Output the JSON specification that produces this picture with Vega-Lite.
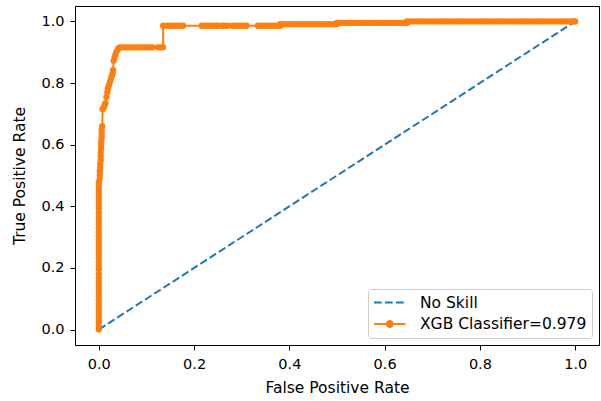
{
  "$schema": "https://vega.github.io/schema/vega-lite/v6.json",
  "width": 524,
  "height": 339,
  "autosize": {"type": "none"},
  "padding": {"left": 75, "top": 6, "right": 2, "bottom": 56},
  "background": "white",
  "config": {
    "font": "DejaVu Sans",
    "view": {"stroke": "black", "strokeWidth": 1},
    "axis": {
      "grid": false,
      "domainColor": "black",
      "tickColor": "black",
      "tickSize": 5,
      "labelFont": "DejaVu Sans",
      "labelFontSize": 14.5,
      "labelColor": "black",
      "titleFont": "DejaVu Sans",
      "titleFontSize": 15.5,
      "titleFontWeight": "normal",
      "titleColor": "black"
    }
  },
  "datasets": {
    "noskill": [
      {"fpr": 0, "tpr": 0, "model": "No Skill"},
      {"fpr": 1, "tpr": 1, "model": "No Skill"}
    ],
    "roc": [
      {"fpr": 0, "tpr": 0}, {"fpr": 0, "tpr": 0.012}, {"fpr": 0, "tpr": 0.024}, {"fpr": 0, "tpr": 0.036},
      {"fpr": 0, "tpr": 0.048}, {"fpr": 0, "tpr": 0.06}, {"fpr": 0, "tpr": 0.072}, {"fpr": 0, "tpr": 0.084},
      {"fpr": 0, "tpr": 0.096}, {"fpr": 0, "tpr": 0.108}, {"fpr": 0, "tpr": 0.12}, {"fpr": 0, "tpr": 0.132},
      {"fpr": 0, "tpr": 0.144}, {"fpr": 0, "tpr": 0.156}, {"fpr": 0, "tpr": 0.168}, {"fpr": 0, "tpr": 0.18},
      {"fpr": 0, "tpr": 0.196}, {"fpr": 0, "tpr": 0.208}, {"fpr": 0, "tpr": 0.22}, {"fpr": 0, "tpr": 0.232},
      {"fpr": 0, "tpr": 0.244}, {"fpr": 0, "tpr": 0.256}, {"fpr": 0, "tpr": 0.268}, {"fpr": 0, "tpr": 0.28},
      {"fpr": 0, "tpr": 0.292}, {"fpr": 0, "tpr": 0.304}, {"fpr": 0, "tpr": 0.316}, {"fpr": 0, "tpr": 0.33},
      {"fpr": 0, "tpr": 0.342}, {"fpr": 0, "tpr": 0.354}, {"fpr": 0, "tpr": 0.366}, {"fpr": 0, "tpr": 0.38},
      {"fpr": 0, "tpr": 0.394}, {"fpr": 0, "tpr": 0.406}, {"fpr": 0, "tpr": 0.418}, {"fpr": 0, "tpr": 0.43},
      {"fpr": 0, "tpr": 0.442}, {"fpr": 0, "tpr": 0.454}, {"fpr": 0, "tpr": 0.466}, {"fpr": 0, "tpr": 0.478},
      {"fpr": 0.002, "tpr": 0.49}, {"fpr": 0.002, "tpr": 0.502}, {"fpr": 0.002, "tpr": 0.514},
      {"fpr": 0.003, "tpr": 0.526}, {"fpr": 0.003, "tpr": 0.538}, {"fpr": 0.004, "tpr": 0.55},
      {"fpr": 0.004, "tpr": 0.562}, {"fpr": 0.004, "tpr": 0.574}, {"fpr": 0.005, "tpr": 0.588},
      {"fpr": 0.005, "tpr": 0.6}, {"fpr": 0.005, "tpr": 0.612}, {"fpr": 0.006, "tpr": 0.624},
      {"fpr": 0.006, "tpr": 0.636}, {"fpr": 0.006, "tpr": 0.648}, {"fpr": 0.007, "tpr": 0.66},
      {"fpr": 0.008, "tpr": 0.715}, {"fpr": 0.01, "tpr": 0.72}, {"fpr": 0.012, "tpr": 0.728},
      {"fpr": 0.014, "tpr": 0.735}, {"fpr": 0.016, "tpr": 0.755}, {"fpr": 0.018, "tpr": 0.77},
      {"fpr": 0.019, "tpr": 0.782}, {"fpr": 0.021, "tpr": 0.792}, {"fpr": 0.023, "tpr": 0.802},
      {"fpr": 0.025, "tpr": 0.812}, {"fpr": 0.027, "tpr": 0.822}, {"fpr": 0.029, "tpr": 0.832},
      {"fpr": 0.03, "tpr": 0.842}, {"fpr": 0.031, "tpr": 0.872}, {"fpr": 0.033, "tpr": 0.882},
      {"fpr": 0.035, "tpr": 0.892}, {"fpr": 0.037, "tpr": 0.902}, {"fpr": 0.04, "tpr": 0.91},
      {"fpr": 0.043, "tpr": 0.916}, {"fpr": 0.049, "tpr": 0.916}, {"fpr": 0.055, "tpr": 0.916},
      {"fpr": 0.061, "tpr": 0.916}, {"fpr": 0.067, "tpr": 0.916}, {"fpr": 0.073, "tpr": 0.916},
      {"fpr": 0.079, "tpr": 0.916}, {"fpr": 0.085, "tpr": 0.916}, {"fpr": 0.091, "tpr": 0.916},
      {"fpr": 0.097, "tpr": 0.916}, {"fpr": 0.103, "tpr": 0.916}, {"fpr": 0.109, "tpr": 0.916},
      {"fpr": 0.113, "tpr": 0.916}, {"fpr": 0.124, "tpr": 0.916}, {"fpr": 0.129, "tpr": 0.916},
      {"fpr": 0.135, "tpr": 0.916}, {"fpr": 0.135, "tpr": 0.986}, {"fpr": 0.141, "tpr": 0.986},
      {"fpr": 0.147, "tpr": 0.986}, {"fpr": 0.153, "tpr": 0.986}, {"fpr": 0.159, "tpr": 0.986},
      {"fpr": 0.165, "tpr": 0.986}, {"fpr": 0.171, "tpr": 0.986}, {"fpr": 0.177, "tpr": 0.986},
      {"fpr": 0.216, "tpr": 0.986}, {"fpr": 0.222, "tpr": 0.986}, {"fpr": 0.228, "tpr": 0.986},
      {"fpr": 0.234, "tpr": 0.986}, {"fpr": 0.24, "tpr": 0.986}, {"fpr": 0.246, "tpr": 0.986},
      {"fpr": 0.25, "tpr": 0.986}, {"fpr": 0.258, "tpr": 0.986}, {"fpr": 0.264, "tpr": 0.986},
      {"fpr": 0.27, "tpr": 0.986}, {"fpr": 0.28, "tpr": 0.986}, {"fpr": 0.286, "tpr": 0.986},
      {"fpr": 0.292, "tpr": 0.986}, {"fpr": 0.298, "tpr": 0.986}, {"fpr": 0.304, "tpr": 0.986},
      {"fpr": 0.31, "tpr": 0.986}, {"fpr": 0.334, "tpr": 0.986}, {"fpr": 0.34, "tpr": 0.986},
      {"fpr": 0.346, "tpr": 0.986}, {"fpr": 0.352, "tpr": 0.986}, {"fpr": 0.358, "tpr": 0.986},
      {"fpr": 0.364, "tpr": 0.986}, {"fpr": 0.37, "tpr": 0.986}, {"fpr": 0.376, "tpr": 0.986},
      {"fpr": 0.381, "tpr": 0.986}, {"fpr": 0.381, "tpr": 0.991}, {"fpr": 0.388, "tpr": 0.991},
      {"fpr": 0.395, "tpr": 0.991}, {"fpr": 0.402, "tpr": 0.991}, {"fpr": 0.409, "tpr": 0.991},
      {"fpr": 0.416, "tpr": 0.991}, {"fpr": 0.423, "tpr": 0.991}, {"fpr": 0.43, "tpr": 0.991},
      {"fpr": 0.437, "tpr": 0.991}, {"fpr": 0.444, "tpr": 0.991}, {"fpr": 0.451, "tpr": 0.991},
      {"fpr": 0.458, "tpr": 0.991}, {"fpr": 0.465, "tpr": 0.991}, {"fpr": 0.472, "tpr": 0.991},
      {"fpr": 0.479, "tpr": 0.991}, {"fpr": 0.486, "tpr": 0.991}, {"fpr": 0.493, "tpr": 0.991},
      {"fpr": 0.5, "tpr": 0.991}, {"fpr": 0.5, "tpr": 0.995}, {"fpr": 0.507, "tpr": 0.995},
      {"fpr": 0.514, "tpr": 0.995}, {"fpr": 0.521, "tpr": 0.995}, {"fpr": 0.528, "tpr": 0.995},
      {"fpr": 0.535, "tpr": 0.995}, {"fpr": 0.542, "tpr": 0.995}, {"fpr": 0.549, "tpr": 0.995},
      {"fpr": 0.556, "tpr": 0.995}, {"fpr": 0.563, "tpr": 0.995}, {"fpr": 0.57, "tpr": 0.995},
      {"fpr": 0.577, "tpr": 0.995}, {"fpr": 0.584, "tpr": 0.995}, {"fpr": 0.591, "tpr": 0.995},
      {"fpr": 0.598, "tpr": 0.995}, {"fpr": 0.605, "tpr": 0.995}, {"fpr": 0.612, "tpr": 0.995},
      {"fpr": 0.619, "tpr": 0.995}, {"fpr": 0.626, "tpr": 0.995}, {"fpr": 0.633, "tpr": 0.995},
      {"fpr": 0.64, "tpr": 0.995}, {"fpr": 0.647, "tpr": 0.995}, {"fpr": 0.647, "tpr": 1},
      {"fpr": 0.654, "tpr": 1}, {"fpr": 0.661, "tpr": 1}, {"fpr": 0.668, "tpr": 1}, {"fpr": 0.675, "tpr": 1},
      {"fpr": 0.682, "tpr": 1}, {"fpr": 0.689, "tpr": 1}, {"fpr": 0.696, "tpr": 1}, {"fpr": 0.703, "tpr": 1},
      {"fpr": 0.71, "tpr": 1}, {"fpr": 0.717, "tpr": 1}, {"fpr": 0.724, "tpr": 1}, {"fpr": 0.731, "tpr": 1},
      {"fpr": 0.738, "tpr": 1}, {"fpr": 0.745, "tpr": 1}, {"fpr": 0.752, "tpr": 1}, {"fpr": 0.759, "tpr": 1},
      {"fpr": 0.766, "tpr": 1}, {"fpr": 0.773, "tpr": 1}, {"fpr": 0.78, "tpr": 1}, {"fpr": 0.787, "tpr": 1},
      {"fpr": 0.794, "tpr": 1}, {"fpr": 0.801, "tpr": 1}, {"fpr": 0.808, "tpr": 1}, {"fpr": 0.815, "tpr": 1},
      {"fpr": 0.822, "tpr": 1}, {"fpr": 0.829, "tpr": 1}, {"fpr": 0.836, "tpr": 1}, {"fpr": 0.843, "tpr": 1},
      {"fpr": 0.85, "tpr": 1}, {"fpr": 0.857, "tpr": 1}, {"fpr": 0.864, "tpr": 1}, {"fpr": 0.871, "tpr": 1},
      {"fpr": 0.878, "tpr": 1}, {"fpr": 0.885, "tpr": 1}, {"fpr": 0.892, "tpr": 1}, {"fpr": 0.899, "tpr": 1},
      {"fpr": 0.906, "tpr": 1}, {"fpr": 0.913, "tpr": 1}, {"fpr": 0.92, "tpr": 1}, {"fpr": 0.927, "tpr": 1},
      {"fpr": 0.934, "tpr": 1}, {"fpr": 0.941, "tpr": 1}, {"fpr": 0.948, "tpr": 1}, {"fpr": 0.955, "tpr": 1},
      {"fpr": 0.962, "tpr": 1}, {"fpr": 0.969, "tpr": 1}, {"fpr": 0.976, "tpr": 1}, {"fpr": 0.983, "tpr": 1},
      {"fpr": 0.99, "tpr": 1}, {"fpr": 0.997, "tpr": 1}, {"fpr": 1, "tpr": 1}
    ]
  },
  "layer": [
    {
      "data": {"name": "noskill"},
      "mark": {"type": "line", "strokeDash": [7.7, 3.3], "strokeWidth": 2},
      "encoding": {
        "x": {
          "field": "fpr",
          "type": "quantitative",
          "scale": {"domain": [-0.05, 1.05], "nice": false, "zero": false},
          "axis": {"title": "False Positive Rate", "values": [0, 0.2, 0.4, 0.6, 0.8, 1], "format": ".1f", "labelPadding": 7, "titlePadding": 10}
        },
        "y": {
          "field": "tpr",
          "type": "quantitative",
          "scale": {"domain": [-0.05, 1.05], "nice": false, "zero": false},
          "axis": {"title": "True Positive Rate", "values": [0, 0.2, 0.4, 0.6, 0.8, 1], "format": ".1f", "labelPadding": 6, "titlePadding": 13}
        },
        "color": {
          "field": "model",
          "type": "nominal",
          "scale": {"domain": ["No Skill", "XGB Classifier=0.979"], "range": ["#1f77b4", "#ff7f0e"]},
          "legend": {
            "title": null,
            "orient": "bottom-right",
            "offset": 7,
            "fillColor": "white",
            "strokeColor": "#cccccc",
            "cornerRadius": 3,
            "padding": 5,
            "symbolType": "stroke",
            "symbolSize": 225,
            "symbolStrokeWidth": 2,
            "labelFont": "DejaVu Sans",
            "labelFontSize": 15.5,
            "labelColor": "black",
            "labelOffset": 30,
            "labelLimit": 300,
            "rowPadding": 4.5,
            "encode": {
              "symbols": {
                "update": {
                  "shape": {"signal": "datum.value === 'No Skill' ? 'M-1,0H3.2' : 'M-1,0H3.2M1.5,0A0.4,0.4,0,1,1,0.7,0A0.4,0.4,0,1,1,1.5,0Z'"},
                  "strokeDash": {"signal": "datum.value === 'No Skill' ? [7.7, 3.3] : [1, 0]"},
                  "fill": {"signal": "datum.value === 'No Skill' ? 'transparent' : '#ff7f0e'"}
                }
              }
            }
          }
        }
      }
    },
    {
      "data": {"name": "roc"},
      "mark": {"type": "line", "strokeWidth": 2, "color": "#ff7f0e"},
      "transform": [{"calculate": "'XGB Classifier=0.979'", "as": "model"}],
      "encoding": {
        "x": {"field": "fpr", "type": "quantitative"},
        "y": {"field": "tpr", "type": "quantitative"},
        "color": {"field": "model", "type": "nominal"}
      }
    },
    {
      "data": {"name": "roc"},
      "mark": {"type": "point", "filled": true, "size": 40, "opacity": 1, "color": "#ff7f0e"},
      "encoding": {
        "x": {"field": "fpr", "type": "quantitative"},
        "y": {"field": "tpr", "type": "quantitative"}
      }
    }
  ]
}
